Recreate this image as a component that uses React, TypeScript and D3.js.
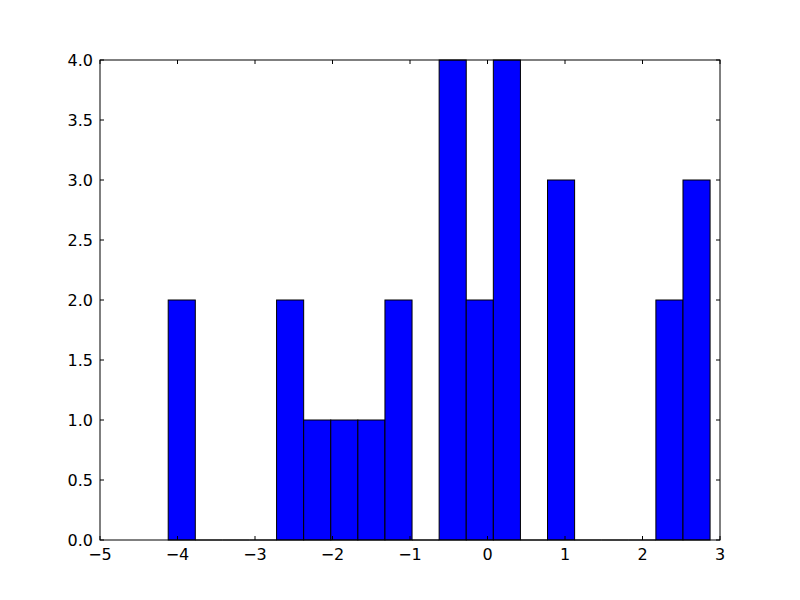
import React from "react";
import * as d3 from "d3";

const binRange = [-4.12, 2.872];
const counts = [2, 0, 0, 0, 2, 1, 1, 1, 2, 0, 4, 2, 4, 0, 3, 0, 0, 0, 2, 3];
const xTicks = [-5, -4, -3, -2, -1, 0, 1, 2, 3];
const yTicks = [0, 0.5, 1, 1.5, 2, 2.5, 3, 3.5, 4];

export default function App() {
  const W = 800, H = 600;
  const L = 100, R = 720, T = 60, B = 540;
  const x = d3.scaleLinear().domain([-5, 3]).range([L, R]);
  const y = d3.scaleLinear().domain([0, 4]).range([B, T]);
  const n = counts.length;
  const bw = (binRange[1] - binRange[0]) / n;
  const fmtX = (v: number) => (v < 0 ? "\u2212" + Math.abs(v) : String(v));
  const fmtY = d3.format(".1f");
  const tl = 4;
  return (
    <svg width={W} height={H} style={{ position: "absolute", left: 0, top: 0, background: "#fff" }}
      fontFamily="DejaVu Sans" fontSize={16}>
      <rect x={0} y={0} width={W} height={H} fill="#fff" />
      {counts.map((c, i) => {
        if (c === 0) return null;
        const x0 = x(binRange[0] + i * bw);
        const x1 = x(binRange[0] + (i + 1) * bw);
        return (
          <rect key={i} x={x0} y={y(c)} width={x1 - x0} height={y(0) - y(c)}
            fill="#0000ff" stroke="#000" strokeWidth={1} />
        );
      })}
      {counts.map((c, i) => {
        if (c !== 0) return null;
        const x0 = x(binRange[0] + i * bw);
        const x1 = x(binRange[0] + (i + 1) * bw);
        return <line key={"z" + i} x1={x0} x2={x1} y1={B} y2={B} stroke="#000" />;
      })}
      <rect x={L} y={T} width={R - L} height={B - T} fill="none" stroke="#000" strokeWidth={1} />
      {xTicks.map((t) => (
        <g key={"x" + t}>
          <line x1={x(t)} x2={x(t)} y1={B} y2={B - tl} stroke="#000" />
          <line x1={x(t)} x2={x(t)} y1={T} y2={T + tl} stroke="#000" />
          <text x={x(t)} y={B + 20} textAnchor="middle">{fmtX(t)}</text>
        </g>
      ))}
      {yTicks.map((t) => (
        <g key={"y" + t}>
          <line x1={L} x2={L + tl} y1={y(t)} y2={y(t)} stroke="#000" />
          <line x1={R} x2={R - tl} y1={y(t)} y2={y(t)} stroke="#000" />
          <text x={L - 7} y={y(t)} dy="0.36em" textAnchor="end">{fmtY(t)}</text>
        </g>
      ))}
    </svg>
  );
}
